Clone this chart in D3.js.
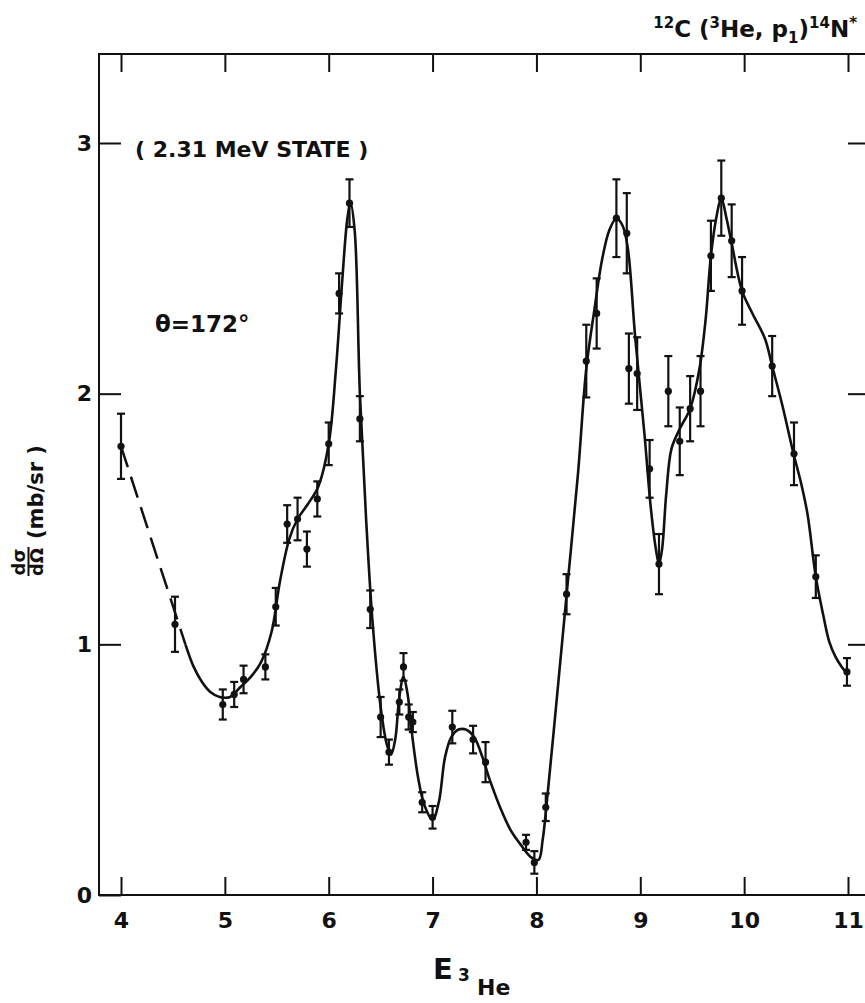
<!DOCTYPE html>
<html>
<head>
<meta charset="utf-8">
<script src="https://cdn.jsdelivr.net/npm/d3@7"></script>
<style>
  html, body { margin: 0; padding: 0; background: #fff; }
  svg { display: block; }
  text { font-family: "DejaVu Sans", "Liberation Sans", sans-serif; font-weight: bold; fill: #111; }
</style>
</head>
<body>
<svg id="chart" width="865" height="1003"></svg>
<script>
// ---- Data ----
const energies = [4.00, 4.52, 4.98, 5.09, 5.18, 5.39, 5.49, 5.60, 5.70, 5.79, 5.89, 6.00, 6.10, 6.20, 6.30, 6.40,
  6.50, 6.58, 6.68, 6.72, 6.77, 6.81, 6.90, 7.00, 7.19, 7.39, 7.51, 7.90, 7.98, 8.09, 8.29,
  8.48, 8.58, 8.77, 8.87, 8.89, 8.97, 9.09, 9.18, 9.27, 9.38, 9.48, 9.58, 9.68, 9.78, 9.88, 9.98,
  10.27, 10.48, 10.69, 10.99];
const crossSections = [1.79, 1.08, 0.76, 0.80, 0.86, 0.91, 1.15, 1.48, 1.50, 1.38, 1.58, 1.80, 2.40, 2.76, 1.90, 1.14,
  0.71, 0.57, 0.77, 0.91, 0.71, 0.69, 0.37, 0.31, 0.67, 0.62, 0.53, 0.21, 0.13, 0.35, 1.20,
  2.13, 2.32, 2.70, 2.64, 2.10, 2.08, 1.70, 1.32, 2.01, 1.81, 1.94, 2.01, 2.55, 2.78, 2.61, 2.41,
  2.11, 1.76, 1.27, 0.89];
const errors = [0.13, 0.11, 0.06, 0.05, 0.055, 0.05, 0.075, 0.075, 0.085, 0.07, 0.07, 0.085, 0.08, 0.095, 0.09, 0.075,
  0.08, 0.05, 0.05, 0.055, 0.05, 0.04, 0.04, 0.045, 0.065, 0.055, 0.08, 0.03, 0.045, 0.055, 0.08,
  0.145, 0.14, 0.155, 0.16, 0.14, 0.145, 0.115, 0.12, 0.14, 0.135, 0.13, 0.14, 0.14, 0.15, 0.145, 0.135,
  0.12, 0.125, 0.085, 0.055];

// dashed extrapolation at low energy
const dashedE = [4.00, 4.62];
const dashedY = [1.79, 1.00];

// hand-drawn solid curve
const curveE = [4.62, 4.70, 4.78, 4.86, 4.95, 5.05, 5.15, 5.25, 5.35, 5.45, 5.53, 5.62, 5.70, 5.80, 5.90, 6.00,
  6.07, 6.13, 6.18, 6.21, 6.25, 6.30, 6.36, 6.42, 6.50, 6.56, 6.60, 6.64, 6.68, 6.72, 6.76, 6.80, 6.86, 6.92, 7.00,
  7.06, 7.12, 7.18, 7.25, 7.32, 7.40, 7.48, 7.55, 7.65, 7.75, 7.85, 7.95, 8.02, 8.06, 8.10, 8.20, 8.30, 8.40,
  8.48, 8.56, 8.63, 8.70, 8.77, 8.83, 8.88, 8.95, 9.04, 9.10, 9.15, 9.18, 9.21, 9.25, 9.30, 9.38, 9.48, 9.57, 9.63, 9.68,
  9.74, 9.78, 9.83, 9.88, 9.98, 10.08, 10.20, 10.27, 10.37, 10.47, 10.55, 10.61, 10.69, 10.76, 10.82, 10.88, 10.94, 11.00];
const curveY = [1.00, 0.91, 0.85, 0.81, 0.79, 0.79, 0.83, 0.87, 0.93, 1.05, 1.25, 1.42, 1.50, 1.56, 1.63, 1.80,
  2.10, 2.45, 2.70, 2.76, 2.65, 2.00, 1.50, 1.10, 0.75, 0.60, 0.56, 0.62, 0.79, 0.87, 0.80, 0.65, 0.47, 0.36, 0.30,
  0.37, 0.55, 0.63, 0.66, 0.66, 0.63, 0.55, 0.46, 0.35, 0.26, 0.20, 0.15, 0.14, 0.22, 0.37, 0.80, 1.24, 1.68,
  2.10, 2.34, 2.53, 2.65, 2.70, 2.67, 2.58, 2.23, 1.84, 1.55, 1.38, 1.32, 1.38, 1.60, 1.78, 1.86, 1.94, 2.10, 2.30, 2.55,
  2.72, 2.78, 2.70, 2.60, 2.41, 2.32, 2.22, 2.11, 1.95, 1.77, 1.64, 1.52, 1.27, 1.12, 1.01, 0.95, 0.91, 0.88];

const xTicks = [4, 5, 6, 7, 8, 9, 10, 11];
const yTicks = [0, 1, 2, 3];
const yTickLabels = ["0", "1", "2", "3"];

// ---- Layout ----
const svg = d3.select("#chart");
const frame = { left: 99, top: 54, right: 868, bottom: 895 };
const x = d3.scaleLinear().domain([4, 11]).range([121, 848]);
const y = d3.scaleLinear().domain([0, 3]).range([895, 143]);

// frame
svg.append("rect")
  .attr("x", frame.left).attr("y", frame.top)
  .attr("width", frame.right - frame.left).attr("height", frame.bottom - frame.top)
  .attr("fill", "none").attr("stroke", "#111").attr("stroke-width", 2);

function styleAxis(g) {
  g.select(".domain").remove();
  g.selectAll(".tick line").attr("stroke", "#111").attr("stroke-width", 2);
  g.selectAll(".tick text").attr("fill", "#111");
}

// bottom axis (inward ticks + labels)
svg.append("g")
  .attr("transform", `translate(0,${frame.bottom})`)
  .call(d3.axisBottom(x).tickValues(xTicks).tickSize(-18).tickPadding(17).tickFormat(d3.format("d")))
  .call(styleAxis)
  .call(g => g.selectAll(".tick text").style("font-size", "22px"));

// top axis ticks
svg.append("g")
  .attr("transform", `translate(0,${frame.top})`)
  .call(d3.axisTop(x).tickValues(xTicks).tickSize(-18).tickFormat(""))
  .call(styleAxis);

// left axis
svg.append("g")
  .attr("transform", `translate(${frame.left},0)`)
  .call(d3.axisLeft(y).tickValues(yTicks).tickSize(-22).tickPadding(7).tickFormat((d, i) => yTickLabels[i]))
  .call(styleAxis)
  .call(g => g.selectAll(".tick text").style("font-size", "22px"));

// right axis ticks
svg.append("g")
  .attr("transform", `translate(${frame.right},0)`)
  .call(d3.axisRight(y).tickValues(yTicks.slice(1)).tickSize(-20).tickFormat(""))
  .call(styleAxis);

// ---- curves ----
const dashedData = dashedE.map((e, i) => [e, dashedY[i]]);
svg.append("path")
  .datum(dashedData)
  .attr("d", d3.line().x(d => x(d[0])).y(d => y(d[1])))
  .attr("fill", "none").attr("stroke", "#111").attr("stroke-width", 2.5)
  .attr("stroke-dasharray", "22,10");

const curveData = curveE.map((e, i) => [e, curveY[i]]);
svg.append("path")
  .datum(curveData)
  .attr("d", d3.line().curve(d3.curveCatmullRom.alpha(0.5)).x(d => x(d[0])).y(d => y(d[1])))
  .attr("fill", "none").attr("stroke", "#111").attr("stroke-width", 2.6);

// ---- data points with error bars ----
const pts = energies.map((e, i) => ({ e, v: crossSections[i], err: errors[i] }));
const pg = svg.append("g");
const bars = pg.selectAll("g.pt").data(pts).join("g").attr("class", "pt");
bars.append("line")
  .attr("x1", d => x(d.e)).attr("x2", d => x(d.e))
  .attr("y1", d => y(d.v - d.err)).attr("y2", d => y(d.v + d.err))
  .attr("stroke", "#111").attr("stroke-width", 2.2);
bars.append("line")
  .attr("x1", d => x(d.e) - 4).attr("x2", d => x(d.e) + 4)
  .attr("y1", d => y(d.v + d.err)).attr("y2", d => y(d.v + d.err))
  .attr("stroke", "#111").attr("stroke-width", 2.2);
bars.append("line")
  .attr("x1", d => x(d.e) - 4).attr("x2", d => x(d.e) + 4)
  .attr("y1", d => y(d.v - d.err)).attr("y2", d => y(d.v - d.err))
  .attr("stroke", "#111").attr("stroke-width", 2.2);
bars.append("circle")
  .attr("cx", d => x(d.e)).attr("cy", d => y(d.v)).attr("r", 3.6)
  .attr("fill", "#111");

// ---- texts ----
// title
const title = svg.append("text").attr("x", 857).attr("y", 37).attr("text-anchor", "end").style("font-size", "23px");
title.append("tspan").text("12").style("font-size", "15px").attr("dy", -9);
title.append("tspan").text("C (").attr("dy", 9);
title.append("tspan").text("3").style("font-size", "15px").attr("dy", -9);
title.append("tspan").text("He, p").attr("dy", 9);
title.append("tspan").text("1").style("font-size", "15px").attr("dy", 6);
title.append("tspan").text(")").attr("dy", -6);
title.append("tspan").text("14").style("font-size", "15px").attr("dy", -9);
title.append("tspan").text("N").attr("dy", 9);
title.append("tspan").text("*").style("font-size", "15px").attr("dy", -9);

svg.append("text").attr("x", 135).attr("y", 157).style("font-size", "22px").text("( 2.31 MeV STATE )");
svg.append("text").attr("x", 155).attr("y", 332).style("font-size", "23px").text("θ=172°");

// x label
const xl = svg.append("g");
xl.append("text").attr("x", 433).attr("y", 979).style("font-size", "29px").text("E");
xl.append("text").attr("x", 458).attr("y", 981).style("font-size", "17px").text("3");
xl.append("text").attr("x", 477).attr("y", 995).style("font-size", "22px").text("He");

// y label
const yl = svg.append("g").attr("transform", "translate(43,580) rotate(-90)");
yl.append("text").attr("x", 18).attr("y", -18).attr("text-anchor", "middle").style("font-size", "18px").text("dσ");
yl.append("line").attr("x1", 4).attr("x2", 33).attr("y1", -14.5).attr("y2", -14.5).attr("stroke", "#111").attr("stroke-width", 2);
yl.append("text").attr("x", 18).attr("y", 0).attr("text-anchor", "middle").style("font-size", "18px").text("dΩ");
yl.append("text").attr("x", 41).attr("y", 0).style("font-size", "21px").text("(mb/sr )");
</script>
</body>
</html>
